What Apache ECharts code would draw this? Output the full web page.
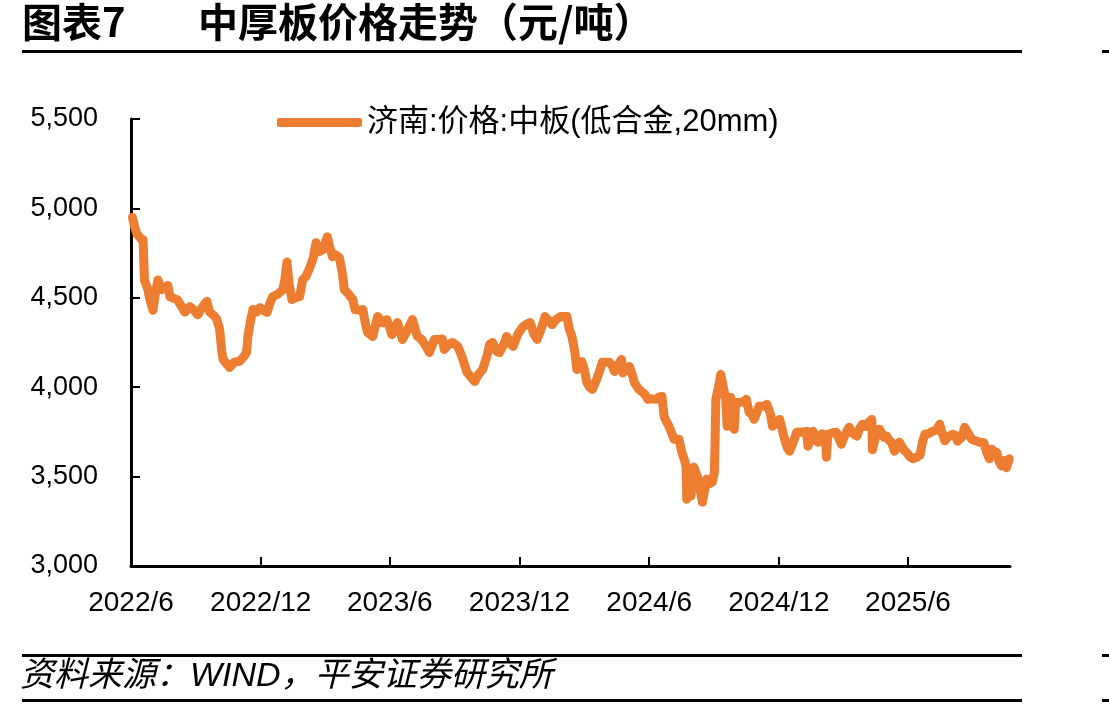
<!DOCTYPE html>
<html>
<head>
<meta charset="utf-8">
<title>中厚板价格走势</title>
<script src="https://cdn.jsdelivr.net/npm/echarts@6/dist/echarts.min.js"></script>
<style>
    html, body {
        margin: 0;
        padding: 0;
        background: #fff;
    }

    #main {
        width: 1109px;
        height: 712px;
    }
</style>
</head>
<body>
<div id="main"></div>
<script>
    // 横轴刻度（半年一档）
    var tickDates = ['2022-06-01', '2022-12-01', '2023-06-01', '2023-12-01', '2024-06-01', '2024-12-01', '2025-06-01'];
    var tickLabels = ['2022/6', '2022/12', '2023/6', '2023/12', '2024/6', '2024/12', '2025/6'];
    var yTicks = [3000, 3500, 4000, 4500, 5000, 5500];

    // 济南:价格:中板(低合金,20mm)，元/吨
    var dates = [
        '2022-06-03', '2022-06-06', '2022-06-09', '2022-06-15', '2022-06-18', '2022-06-20', '2022-06-25', '2022-06-27',
        '2022-07-02', '2022-07-06', '2022-07-09', '2022-07-14', '2022-07-19', '2022-07-23', '2022-07-26', '2022-08-05',
        '2022-08-10', '2022-08-16', '2022-08-23', '2022-08-29', '2022-09-03', '2022-09-10', '2022-09-16', '2022-09-20',
        '2022-09-26', '2022-09-30', '2022-10-04', '2022-10-07', '2022-10-09', '2022-10-14', '2022-10-18', '2022-10-25',
        '2022-11-01', '2022-11-07', '2022-11-11', '2022-11-13', '2022-11-17', '2022-11-20', '2022-11-25', '2022-11-30',
        '2022-12-05', '2022-12-10', '2022-12-14', '2022-12-18', '2022-12-25', '2023-01-01', '2023-01-04', '2023-01-07',
        '2023-01-10', '2023-01-14', '2023-01-19', '2023-01-25', '2023-01-29', '2023-02-03', '2023-02-07', '2023-02-13',
        '2023-02-17', '2023-02-21', '2023-02-27', '2023-03-05', '2023-03-08', '2023-03-12', '2023-03-17', '2023-03-22',
        '2023-03-26', '2023-03-29', '2023-04-04', '2023-04-10', '2023-04-13', '2023-04-20', '2023-04-24', '2023-04-29',
        '2023-05-01', '2023-05-08', '2023-05-15', '2023-05-22', '2023-05-28', '2023-06-04', '2023-06-12', '2023-06-19',
        '2023-06-26', '2023-07-03', '2023-07-10', '2023-07-16', '2023-07-22', '2023-07-27', '2023-08-03', '2023-08-10',
        '2023-08-14', '2023-08-17', '2023-08-23', '2023-08-29', '2023-09-05', '2023-09-11', '2023-09-18', '2023-09-23',
        '2023-09-29', '2023-10-04', '2023-10-10', '2023-10-16', '2023-10-20', '2023-10-24', '2023-10-30', '2023-11-03',
        '2023-11-09', '2023-11-13', '2023-11-17', '2023-11-22', '2023-11-29', '2023-12-06', '2023-12-10', '2023-12-16',
        '2023-12-21', '2023-12-26', '2024-01-01', '2024-01-06', '2024-01-12', '2024-01-16', '2024-01-22', '2024-01-28',
        '2024-02-01', '2024-02-06', '2024-02-09', '2024-02-13', '2024-02-17', '2024-02-20', '2024-02-24', '2024-02-27',
        '2024-03-02', '2024-03-05', '2024-03-09', '2024-03-13', '2024-03-19', '2024-03-23', '2024-03-27', '2024-04-02',
        '2024-04-06', '2024-04-10', '2024-04-13', '2024-04-19', '2024-04-23', '2024-04-25', '2024-04-30', '2024-05-04',
        '2024-05-09', '2024-05-11', '2024-05-17', '2024-05-21', '2024-05-26', '2024-05-30', '2024-06-04', '2024-06-11',
        '2024-06-15', '2024-06-19', '2024-06-22', '2024-06-25', '2024-06-29', '2024-07-03', '2024-07-06', '2024-07-13',
        '2024-07-17', '2024-07-21', '2024-07-23', '2024-07-24', '2024-07-27', '2024-07-30', '2024-08-03', '2024-08-08',
        '2024-08-11', '2024-08-15', '2024-08-18', '2024-08-21', '2024-08-25', '2024-08-29', '2024-09-01', '2024-09-02',
        '2024-09-03', '2024-09-08', '2024-09-10', '2024-09-15', '2024-09-17', '2024-09-19', '2024-09-23', '2024-09-24',
        '2024-09-29', '2024-10-01', '2024-10-07', '2024-10-13', '2024-10-16', '2024-10-20', '2024-10-24', '2024-10-27',
        '2024-10-31', '2024-11-03', '2024-11-09', '2024-11-14', '2024-11-19', '2024-11-22', '2024-11-28', '2024-12-02',
        '2024-12-06', '2024-12-09', '2024-12-13', '2024-12-16', '2024-12-22', '2024-12-26', '2025-01-02', '2025-01-06',
        '2025-01-09', '2025-01-11', '2025-01-14', '2025-01-18', '2025-01-25', '2025-01-31', '2025-02-05', '2025-02-06',
        '2025-02-08', '2025-02-15', '2025-02-20', '2025-02-25', '2025-02-27', '2025-03-05', '2025-03-10', '2025-03-16',
        '2025-03-21', '2025-03-25', '2025-03-29', '2025-04-02', '2025-04-06', '2025-04-11', '2025-04-12', '2025-04-15',
        '2025-04-19', '2025-04-22', '2025-04-28', '2025-05-02', '2025-05-06', '2025-05-09', '2025-05-13', '2025-05-18',
        '2025-05-20', '2025-05-26', '2025-05-30', '2025-06-04', '2025-06-08', '2025-06-13', '2025-06-18', '2025-06-22',
        '2025-06-25', '2025-06-30', '2025-07-06', '2025-07-11', '2025-07-16', '2025-07-18', '2025-07-23', '2025-07-27',
        '2025-08-03', '2025-08-07', '2025-08-10', '2025-08-16', '2025-08-20', '2025-08-24', '2025-08-30', '2025-09-04',
        '2025-09-10', '2025-09-16', '2025-09-20', '2025-09-24', '2025-09-27', '2025-10-01', '2025-10-04', '2025-10-08',
        '2025-10-11', '2025-10-15', '2025-10-18', '2025-10-22'
    ];
    var prices = [
        4950, 4900, 4860, 4830, 4825, 4600, 4545, 4500,
        4430, 4540, 4600, 4545, 4560, 4570, 4505, 4490,
        4460, 4420, 4450, 4430, 4405, 4450, 4480, 4420,
        4400, 4380, 4325, 4200, 4155, 4130, 4110, 4140,
        4145, 4170, 4195, 4285, 4380, 4435, 4420, 4445,
        4430, 4418, 4470, 4507, 4520, 4545, 4600, 4700,
        4580, 4490, 4500, 4507, 4600, 4620, 4657, 4720,
        4808, 4758, 4770, 4842, 4790, 4730, 4740, 4724,
        4640, 4545, 4520, 4490, 4434, 4430, 4434, 4330,
        4306, 4284, 4395, 4360, 4378, 4295, 4362, 4267,
        4320, 4378, 4284, 4267, 4230, 4194, 4267, 4267,
        4270, 4211, 4240, 4250, 4228, 4170, 4083, 4060,
        4032, 4070, 4099, 4172, 4240, 4250, 4200, 4194,
        4240, 4284, 4250, 4228, 4300, 4339, 4350, 4362,
        4300, 4267, 4330, 4395, 4370, 4350, 4380, 4395,
        4395, 4395, 4330, 4284, 4200, 4099, 4110, 4144,
        4090, 4027, 4000, 3988, 4044, 4090, 4139, 4140,
        4139, 4120, 4088, 4130, 4155, 4080, 4100, 4116,
        4060, 4027, 3990, 3977, 3960, 3932, 3935, 3932,
        3945, 3949, 3837, 3810, 3781, 3740, 3709, 3709,
        3636, 3590, 3558, 3374, 3400, 3391, 3553, 3500,
        3447, 3357, 3420, 3486, 3460, 3470, 3525, 3700,
        3932, 4027, 4072, 3971, 3932, 3781, 3900, 3943,
        3765, 3915, 3915, 3921, 3932, 3859, 3850, 3820,
        3860, 3893, 3893, 3904, 3850, 3781, 3800, 3820,
        3760, 3709, 3660, 3642, 3700, 3748, 3750, 3745,
        3754, 3670, 3700, 3754, 3692, 3740, 3700, 3608,
        3737, 3745, 3748, 3700, 3681, 3740, 3776, 3740,
        3726, 3770, 3793, 3780, 3800, 3820, 3650, 3700,
        3765, 3765, 3720, 3726, 3700, 3692, 3642, 3680,
        3692, 3650, 3636, 3610, 3600, 3608, 3620, 3700,
        3737, 3740, 3754, 3760, 3793, 3760, 3700, 3720,
        3737, 3730, 3698, 3720, 3776, 3750, 3709, 3700,
        3692, 3690, 3636, 3600, 3653, 3640, 3636, 3580,
        3560, 3590, 3550, 3600
    ];

    var seriesName = '济南:价格:中板(低合金,20mm)';
    var latinFont = 'Liberation Sans, Arial, Noto Sans CJK SC, sans-serif';
    var cjkFont = 'Noto Sans CJK SC, sans-serif';

    var DAY = 24 * 3600 * 1000;
    var xMin = Date.parse('2022-06-01');
    var xMax = xMin + 1240 * DAY;

    var seriesData = dates.map(function (d, i) {
        return [Date.parse(d), prices[i]];
    });
    var tickValues = tickDates.map(function (d) {
        return Date.parse(d);
    });

    var myChart = echarts.init(document.getElementById('main'), null, {renderer: 'canvas'});

    var option = {
        animation: false,
        backgroundColor: '#fff',
        grid: {
            left: 131,
            right: 99,
            top: 119,
            bottom: 146,
            containLabel: false
        },
        legend: {
            left: 272,
            top: 102,
            icon: 'roundRect',
            itemWidth: 85,
            itemHeight: 9,
            itemGap: 0,
            textStyle: {
                fontFamily: latinFont,
                fontSize: 31,
                color: '#000'
            },
            data: [seriesName]
        },
        xAxis: {
            type: 'value',
            min: xMin,
            max: xMax,
            axisLine: {
                lineStyle: {color: '#000', width: 3}
            },
            axisTick: {
                show: true,
                inside: true,
                length: 9,
                customValues: tickValues.slice(1),
                lineStyle: {color: '#000', width: 2}
            },
            axisLabel: {
                customValues: tickValues,
                margin: 23,
                fontFamily: latinFont,
                fontSize: 28,
                color: '#000',
                formatter: function (v) {
                    var i = tickValues.indexOf(v);
                    return i >= 0 ? tickLabels[i] : '';
                }
            },
            splitLine: {show: false}
        },
        yAxis: {
            type: 'value',
            min: 3000,
            max: 5500,
            interval: 500,
            axisLine: {
                show: true,
                lineStyle: {color: '#000', width: 3}
            },
            axisTick: {
                show: true,
                inside: true,
                length: 9,
                lineStyle: {color: '#000', width: 2}
            },
            axisLabel: {
                margin: 33,
                fontFamily: latinFont,
                fontSize: 27,
                color: '#000',
                formatter: function (v) {
                    return String(v).replace(/\B(?=(\d{3})+(?!\d))/g, ',');
                }
            },
            splitLine: {show: false}
        },
        series: [{
            name: seriesName,
            type: 'line',
            data: seriesData,
            showSymbol: false,
            symbol: 'none',
            itemStyle: {color: '#ED7D31'},
            lineStyle: {
                color: '#ED7D31',
                width: 9,
                join: 'round',
                cap: 'round'
            }
        }],
        graphic: [
            // 标题
            {
                type: 'text', left: 22, top: 2,
                style: {text: '图表7', font: 'bold 40px ' + cjkFont, fill: '#000'}
            },
            {
                type: 'text', left: 198, top: 2,
                style: {text: '中厚板价格走势（元/吨）', font: 'bold 40px ' + cjkFont, fill: '#000'}
            },
            {
                type: 'rect', shape: {x: 22, y: 50, width: 1000, height: 3},
                style: {fill: '#000'}
            },
            {
                type: 'rect', shape: {x: 1102, y: 50, width: 7, height: 3},
                style: {fill: '#000'}
            },
            // 资料来源
            {
                type: 'rect', shape: {x: 22, y: 654, width: 1000, height: 3},
                style: {fill: '#000'}
            },
            {
                type: 'rect', shape: {x: 1102, y: 654, width: 7, height: 3},
                style: {fill: '#000'}
            },
            {
                type: 'text', left: 20, top: 660,
                style: {text: '资料来源：WIND，平安证券研究所', font: 'italic 34px ' + latinFont, fill: '#000'}
            },
            {
                type: 'rect', shape: {x: 22, y: 699, width: 1000, height: 3},
                style: {fill: '#000'}
            },
            {
                type: 'rect', shape: {x: 1102, y: 699, width: 7, height: 3},
                style: {fill: '#000'}
            }
        ]
    };

    myChart.setOption(option);
</script>
</body>
</html>
